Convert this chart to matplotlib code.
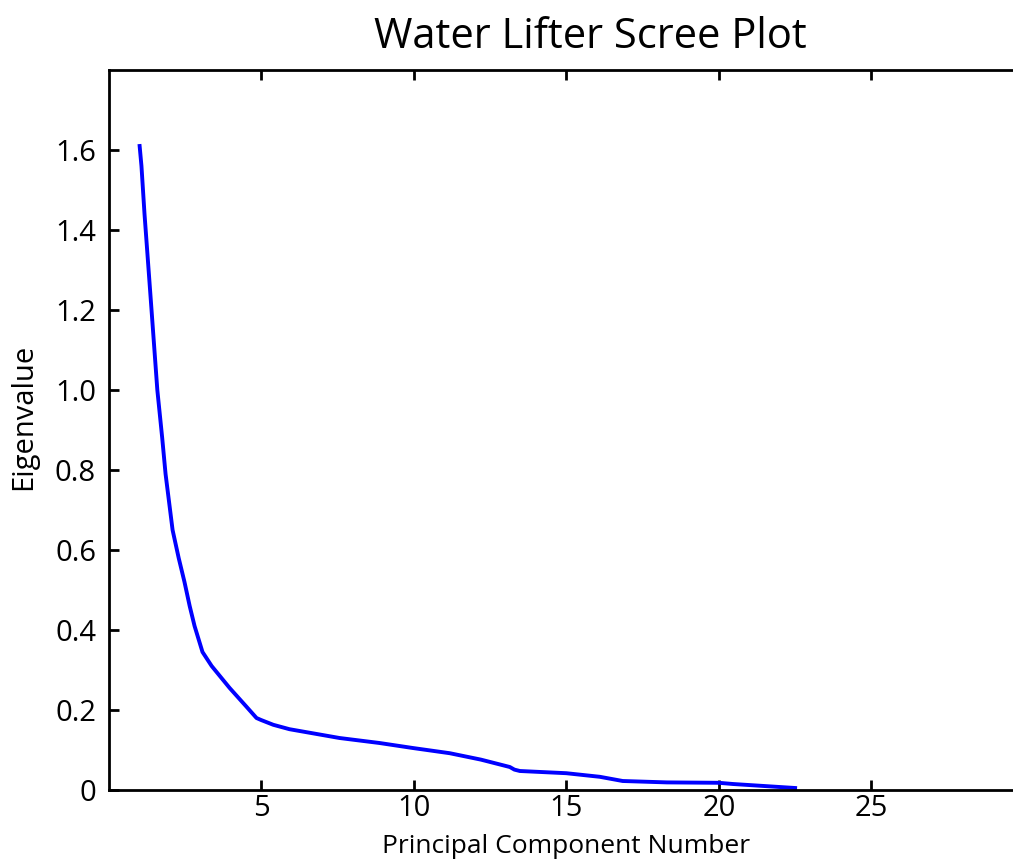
import matplotlib
matplotlib.use("Agg")
import matplotlib.pyplot as plt

# values
pc_number = [1.02, 1.08, 1.18, 1.41, 1.60, 1.76, 1.87, 2.10, 2.30, 2.49, 2.66, 2.82,
             3.08, 3.38, 3.97, 4.50, 4.85, 5.00, 5.40, 5.93, 7.57, 8.88, 9.97, 11.18,
             12.20, 13.15, 13.30, 13.48, 15.00, 16.10, 16.85, 18.30, 20.00, 20.46, 22.50]
eigenvalue = [1.61, 1.56, 1.44, 1.20, 1.00, 0.88, 0.79, 0.65, 0.58, 0.52, 0.46, 0.41,
              0.345, 0.31, 0.255, 0.21, 0.18, 0.175, 0.163, 0.152, 0.13, 0.1175, 0.105, 0.092,
              0.076, 0.0575, 0.051, 0.0475, 0.042, 0.033, 0.0225, 0.019, 0.018, 0.015, 0.005]

x_ticks = [5, 10, 15, 20, 25]
y_ticks = [0, 0.2, 0.4, 0.6, 0.8, 1.0, 1.2, 1.4, 1.6]
y_tick_labels = ["0", "0.2", "0.4", "0.6", "0.8", "1.0", "1.2", "1.4", "1.6"]

plt.rcParams["font.family"] = ["Open Sans", "DejaVu Sans"]

W, H = 1013, 863
fig = plt.figure(figsize=(W / 100, H / 100), dpi=100)
left, right, bottom, top = 108.5, 1024, 790, 70
ax = fig.add_axes([left / W, (H - bottom) / H, (right - left) / W, (bottom - top) / H])

ax.plot(pc_number, eigenvalue, color="#0000ff", lw=2.8, solid_joinstyle="round")

ax.set_xlim(0, 30)
ax.set_ylim(0, 1.8)
ax.set_xticks(x_ticks)
ax.set_yticks(y_ticks)
ax.set_yticklabels(y_tick_labels)

for side in ax.spines.values():
	side.set_linewidth(2)
	side.set_color("black")
ax.tick_params(direction="in", length=7, width=2, labelsize=21,
	top=True, right=True)
ax.tick_params(axis="x", pad=3)
ax.tick_params(axis="y", pad=9)

ax.set_xlabel("Principal Component Number", fontsize=19, labelpad=8)
ax.set_ylabel("Eigenvalue", fontsize=21)
ax.yaxis.set_label_coords((38 - left) / (right - left), (bottom - 417) / (bottom - top))
ax.set_title("Water Lifter Scree Plot", fontsize=30, pad=16,
	x=(590 - left) / (right - left))

fig.savefig("out.png", dpi=100)
